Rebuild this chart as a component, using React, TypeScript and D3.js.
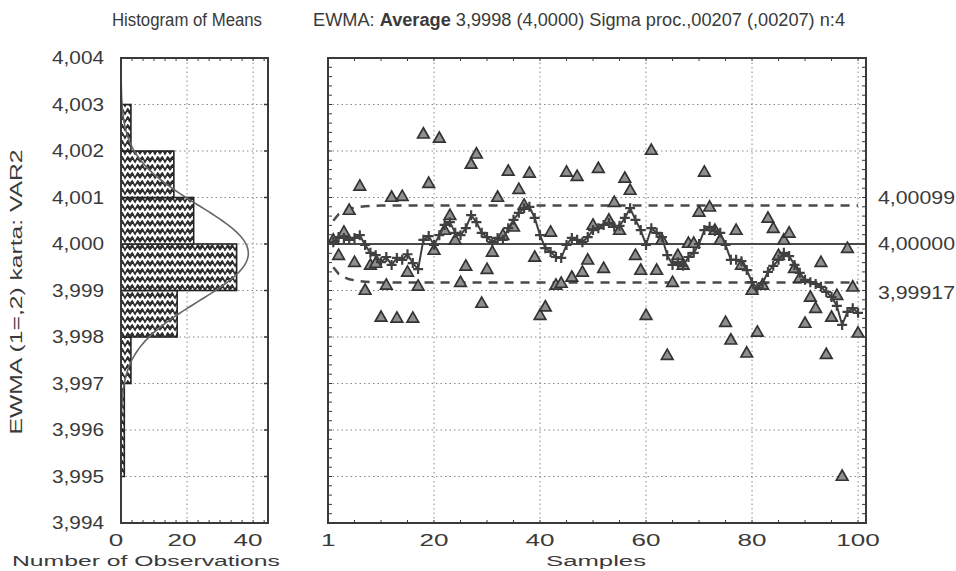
import React from 'react';
import * as d3 from 'd3';

// sample means (triangles)
const means = [
  4.00009, 3.99976, 4.00026, 4.00073, 3.99961, 4.00125, 3.99901, 3.99955, 3.99959, 3.99843,
  3.99912, 4.00101, 3.99841, 4.00103, 3.9994, 3.99841, 3.9991, 4.00237, 4.00131, 3.99987,
  4.00228, 4.0003, 4.00062, 4.00009, 3.99918, 3.99953, 4.00172, 4.00194, 3.99873, 3.99946,
  3.99983, 4.00101, 4.00019, 4.00157, 4.00037, 4.00118, 4.00084, 4.00153, 3.99972, 3.99847,
  3.99865, 4.00026, 3.99912, 3.99916, 4.00155, 3.99929, 4.00146, 3.9994, 3.99966, 4.00041,
  4.00163, 3.99948, 4.00052, 4.0009, 4.0003, 4.00142, 4.00116, 3.99976, 3.99944, 3.99847,
  4.00202, 3.99944, 4.00009, 3.99761, 3.99918, 3.99976, 3.99955, 4.00002, 4.00002, 4.00069,
  4.00155, 4.0008, 4.0003, 4.00009, 3.99832, 3.99794, 4.0003, 3.99955, 3.99766, 3.99901,
  3.99811, 3.99912, 4.00056, 4.00034, 3.99976, 4.00009, 4.00024, 3.99948, 3.99927, 3.9983,
  3.99886, 3.99862, 3.99961, 3.99763, 3.99843, 3.9989, 3.99501, 3.99991, 3.99908, 3.99809,
];

// EWMA statistic (plus markers)
const ewma = [
  4.00004, 4.00015, 4.00013, 4.00009, 4.00013, 4.00019, 3.99998, 3.99981, 3.99976, 3.99961,
  3.99972, 3.99955, 3.9997, 3.99966, 3.99978, 3.99959, 3.99946, 4.00009, 4.00017, 3.99998,
  4.00019, 4.00041, 4.00047, 4.00024, 4.00019, 4.00034, 4.00062, 4.00047, 4.00024, 4.00015,
  4.00004, 4.00013, 4.00009, 4.00034, 4.00052, 4.00067, 4.00077, 4.0008, 4.00056, 4.00019,
  3.99991, 3.99983, 3.99972, 3.9997, 3.99998, 4.00013, 4.00009, 4.00004, 4.00015, 4.0003,
  4.00034, 4.00041, 4.00045, 4.00037, 4.00039, 4.00056, 4.00077, 4.00052, 4.0003, 3.99998,
  4.00034, 4.00024, 4.00015, 3.99976, 3.99955, 3.99961, 3.99953, 3.99972, 3.99981, 4.0,
  4.0003, 4.00037, 4.00028, 4.00024, 3.99998, 3.99966, 3.99966, 3.99963, 3.99944, 3.99918,
  3.99905, 3.99916, 3.9994, 3.99953, 3.99966, 3.99981, 3.99974, 3.99955, 3.99938, 3.99923,
  3.99918, 3.99914, 3.99908, 3.99897, 3.99886, 3.99867, 3.99826, 3.99854, 3.99862, 3.99852,
];

const centerValue = 4.0;
const limitHalfStart = [0.0005, 0.00064, 0.00071, 0.00076, 0.00078, 0.0008, 0.00081, 0.00082, 0.00082];
const limitHalfSteady = 0.00083;
const limitLabels = ['4,00099', '4,00000', '3,99917'];

// histogram of means: lower bin edges and counts
const binStarts = [3.995, 3.996, 3.997, 3.998, 3.999, 4.0, 4.001, 4.002];
const binCounts = [1, 1, 3, 17, 35, 22, 16, 3];
const binWidth = 0.001;
const fitMean = 3.9998;
const fitSigma = 0.001035;
const nObs = 100;

const yTicks = [3.994, 3.995, 3.996, 3.997, 3.998, 3.999, 4.0, 4.001, 4.002, 4.003, 4.004];
const histTicks = [0, 20, 40];
const sampleTicks = [1, 20, 40, 60, 80, 100];
const sampleGrid = [20, 40, 60, 80, 100];

const FONT = '"Liberation Sans", Arial, sans-serif';
const INK = '#3a3a3a';
const TOP = 58;
const BOTTOM = 523;

const App = () => {
  const y = d3.scaleLinear().domain([3.994, 4.004]).range([BOTTOM, TOP]);
  const hx = d3.scaleLinear().domain([0, 44.5]).range([121, 268]);
  const sx = d3.scaleLinear().domain([0, 101.5]).range([328, 866]);
  const fmt = (v: number) => d3.format('.3f')(v).replace('.', ',');

  const samples = means.map((_, i) => i + 1);
  const half = (i: number) => (i < limitHalfStart.length ? limitHalfStart[i] : limitHalfSteady);

  const limitLine = (sign: number) =>
    d3.line<number>().x((s) => sx(s)).y((s) => y(centerValue + sign * half(s - 1)))(samples) || '';
  const ewmaLine = d3.line<number>().x((_, i) => sx(i + 1)).y((v) => y(v))(ewma) || '';

  // fitted normal curve for the histogram
  const curveYs = d3.range(3.994, 4.0041, 0.00005);
  const pdf = (v: number) =>
    Math.exp(-0.5 * ((v - fitMean) / fitSigma) ** 2) / (fitSigma * Math.sqrt(2 * Math.PI));
  const curve = d3.line<number>().x((v) => hx(nObs * binWidth * pdf(v))).y((v) => y(v))(curveYs) || '';

  const minorY = d3.range(3.994, 4.0041, 0.0002);
  const minorH = d3.range(0, 44.5, 10 / 3);
  const minorS = d3.range(0, 101.5, 5);

  const tri = 'M0,-6L5.8,4.2L-5.8,4.2Z';
  const plus = 'M-5,0H5M0,-5V5';

  return (
    <svg width={956} height={571} style={{ position: 'absolute', left: 0, top: 0, background: '#fff' }} fontFamily={FONT}>
      <defs>
        <pattern id="zig" width={10} height={8} patternUnits="userSpaceOnUse">
          <rect width={10} height={8} fill="#2e2e2e" />
          <path d="M-1,6L2.5,1.5L5,6L7.5,1.5L11,6" stroke="#fff" strokeWidth={2.2} fill="none" />
        </pattern>
        <clipPath id="hclip">
          <rect x={121} y={TOP} width={147} height={BOTTOM - TOP} />
        </clipPath>
        <clipPath id="mclip">
          <rect x={328} y={TOP} width={538} height={BOTTOM - TOP} />
        </clipPath>
      </defs>

      {/* titles */}
      <text x={187} y={26} fontSize={17.5} textAnchor="middle" fill={INK} textLength={150} lengthAdjust="spacingAndGlyphs">
        Histogram of Means
      </text>
      <text x={313} y={26} fontSize={17.5} fill={INK} textLength={532} lengthAdjust="spacingAndGlyphs">
        {'EWMA: '}
        <tspan fontWeight="bold">Average</tspan>
        {' 3,9998 (4,0000) Sigma proc.,00207 (,00207) n:4'}
      </text>

      {/* histogram panel */}
      {yTicks.slice(1, -1).map((t) => (
        <line key={'hg' + t} x1={121} x2={268} y1={y(t)} y2={y(t)} stroke="#888" strokeDasharray="1.5,3" />
      ))}
      {histTicks.slice(1).map((t) => (
        <line key={'hv' + t} x1={hx(t)} x2={hx(t)} y1={TOP} y2={BOTTOM} stroke="#888" strokeDasharray="1.5,3" />
      ))}
      {binStarts.map((b, i) => (
        <rect
          key={'bin' + b}
          x={hx(0)}
          y={y(b + binWidth)}
          width={hx(binCounts[i]) - hx(0)}
          height={y(b) - y(b + binWidth)}
          fill="url(#zig)"
          stroke="#222"
          strokeWidth={1.6}
        />
      ))}
      <path d={curve} fill="none" stroke="#666" strokeWidth={1.6} clipPath="url(#hclip)" />
      {minorH.map((t) => (
        <g key={'hm' + t}>
          <line x1={hx(t)} x2={hx(t)} y1={TOP} y2={TOP + 3} stroke={INK} />
          <line x1={hx(t)} x2={hx(t)} y1={BOTTOM} y2={BOTTOM - 3} stroke={INK} />
        </g>
      ))}
      {yTicks.map((t) => (
        <line key={'hr' + t} x1={268} x2={264} y1={y(t)} y2={y(t)} stroke={INK} strokeWidth={1.5} />
      ))}
      <rect x={121} y={TOP} width={147} height={BOTTOM - TOP} fill="none" stroke={INK} strokeWidth={2} />

      {/* y tick labels */}
      {yTicks.map((t) => (
        <text key={'yl' + t} x={104} y={y(t)} dy="0.36em" fontSize={18} textAnchor="end" fill={INK} textLength={52} lengthAdjust="spacingAndGlyphs">
          {fmt(t)}
        </text>
      ))}
      <text
        transform="translate(22,292) rotate(-90)"
        fontSize={16}
        textAnchor="middle"
        fill={INK}
        textLength={285}
        lengthAdjust="spacingAndGlyphs"
      >
        EWMA (1=,2) karta: VAR2
      </text>

      {/* histogram x labels */}
      {histTicks.map((t) => (
        <text key={'hx' + t} x={hx(t) - 5} y={546} fontSize={17} textAnchor="middle" fill={INK} textLength={String(t).length * 14.5} lengthAdjust="spacingAndGlyphs">
          {t}
        </text>
      ))}
      <text x={146} y={566} fontSize={15.5} textAnchor="middle" fill={INK} textLength={268} lengthAdjust="spacingAndGlyphs">
        Number of Observations
      </text>

      {/* main panel */}
      {yTicks.slice(1, -1).map((t) => (
        <line key={'mg' + t} x1={328} x2={866} y1={y(t)} y2={y(t)} stroke="#888" strokeDasharray="1.5,3" />
      ))}
      {sampleGrid.map((t) => (
        <line key={'mv' + t} x1={sx(t)} x2={sx(t)} y1={TOP} y2={BOTTOM} stroke="#888" strokeDasharray="1.5,3" />
      ))}
      <g clipPath="url(#mclip)">
        <line x1={sx(1)} x2={866} y1={y(centerValue)} y2={y(centerValue)} stroke="#4a4a4a" strokeWidth={2} />
        <path d={limitLine(1)} fill="none" stroke="#4a4a4a" strokeWidth={2.5} strokeDasharray="9,7" />
        <path d={limitLine(-1)} fill="none" stroke="#4a4a4a" strokeWidth={2.5} strokeDasharray="9,7" />
        {means.map((v, i) => (
          <path key={'m' + i} d={tri} transform={`translate(${sx(i + 1)},${y(v)})`} fill="#8f8f8f" stroke="#333" strokeWidth={1.7} />
        ))}
        <path d={ewmaLine} fill="none" stroke="#404040" strokeWidth={2} />
        {ewma.map((v, i) => (
          <path key={'e' + i} d={plus} transform={`translate(${sx(i + 1)},${y(v)})`} stroke="#404040" strokeWidth={2.2} />
        ))}
      </g>
      {minorY.map((t) => (
        <g key={'my' + t}>
          <line x1={328} x2={332} y1={y(t)} y2={y(t)} stroke={INK} />
          <line x1={866} x2={862} y1={y(t)} y2={y(t)} stroke={INK} />
        </g>
      ))}
      {minorS.map((t) => (
        <g key={'ms' + t}>
          <line x1={sx(t)} x2={sx(t)} y1={BOTTOM} y2={BOTTOM - 3} stroke={INK} />
          <line x1={sx(t)} x2={sx(t)} y1={TOP} y2={TOP + 3} stroke={INK} />
        </g>
      ))}
      <rect x={328} y={TOP} width={538} height={BOTTOM - TOP} fill="none" stroke={INK} strokeWidth={2} />

      {/* sample labels */}
      {sampleTicks.map((t) => (
        <text key={'sx' + t} x={sx(t) - (t === 1 ? 5 : 0)} y={546} fontSize={17} textAnchor="middle" fill={INK} textLength={String(t).length * 14.5} lengthAdjust="spacingAndGlyphs">
          {t}
        </text>
      ))}
      <text x={596} y={566} fontSize={15.5} textAnchor="middle" fill={INK} textLength={100} lengthAdjust="spacingAndGlyphs">
        Samples
      </text>

      {/* limit labels */}
      {[y(centerValue + limitHalfSteady) - 8, y(centerValue), y(centerValue - limitHalfSteady) + 10].map((py, i) => (
        <text key={'ll' + i} x={878} y={py} dy="0.36em" fontSize={18} fill={INK} textLength={77} lengthAdjust="spacingAndGlyphs">
          {limitLabels[i]}
        </text>
      ))}
    </svg>
  );
};

export default App;
